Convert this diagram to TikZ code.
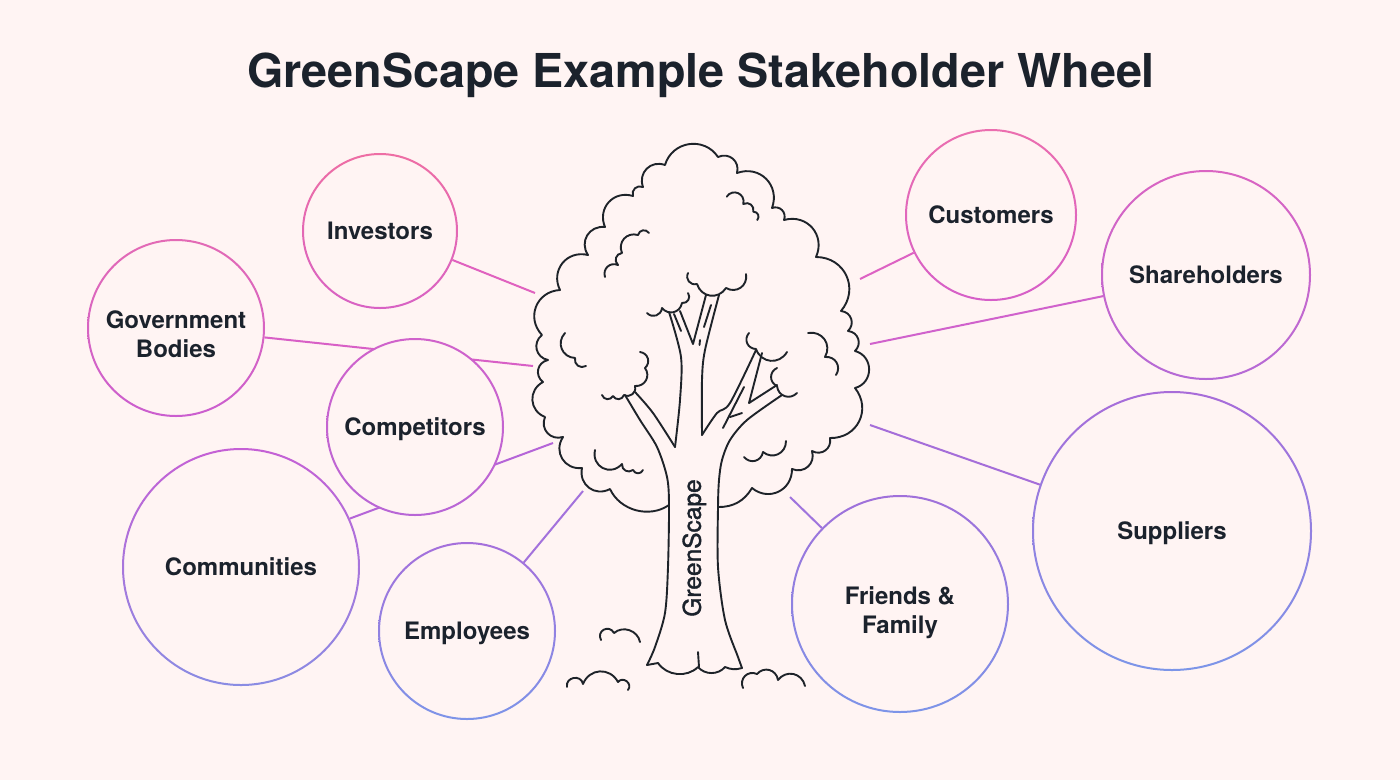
\documentclass[tikz,border=0pt]{standalone}
\usepackage{fontspec}
\setmainfont{TeX Gyre Heros}
\newfontfamily\trunkfont[FakeBold=1.5]{TeX Gyre Heros}
\pgfdeclarelayer{bgl}
\pgfdeclarelayer{lines}
\pgfsetlayers{bgl,lines,main}

\definecolor{bgc}{HTML}{FFF4F3}
\definecolor{txt}{HTML}{1B222C}
\definecolor{treec}{HTML}{1E2329}
% ring colours (top / bottom)
\definecolor{invT}{HTML}{EE6EA4}\definecolor{invB}{HTML}{D862C4}
\definecolor{govT}{HTML}{E36AB5}\definecolor{govB}{HTML}{CB5ECF}
\definecolor{comT}{HTML}{D062CB}\definecolor{comB}{HTML}{B866D6}
\definecolor{cmmT}{HTML}{C560D5}\definecolor{cmmB}{HTML}{8A8CE3}
\definecolor{empT}{HTML}{A56FDB}\definecolor{empB}{HTML}{7D94E8}
\definecolor{cusT}{HTML}{EB6EAF}\definecolor{cusB}{HTML}{D65FC8}
\definecolor{shaT}{HTML}{DA64C2}\definecolor{shaB}{HTML}{B56AD6}
\definecolor{supT}{HTML}{A86CD9}\definecolor{supB}{HTML}{7C95E8}
\definecolor{friT}{HTML}{A070DA}\definecolor{friB}{HTML}{7D94E8}
% connector colours
\definecolor{lInv}{HTML}{E062BF}
\definecolor{lGov}{HTML}{D85FC6}
\definecolor{lCmm}{HTML}{B565D8}
\definecolor{lEmp}{HTML}{A372DC}
\definecolor{lCus}{HTML}{DD62C3}
\definecolor{lSha}{HTML}{D062CC}
\definecolor{lSup}{HTML}{A56ED9}
\definecolor{lFri}{HTML}{9F74DD}

\newcommand\capone[1]{\raisebox{-8.6pt}[0pt][0pt]{#1}}
\newcommand\captwo[2]{\raisebox{-29.6pt}[0pt][0pt]{\begin{tabular}[b]{@{}c@{}}#1\\#2\end{tabular}}}
\newcommand\gring[4]{%
  \shade[top color=#3, bottom color=#4, even odd rule]
    (#1.center) circle[radius=#2+1] (#1.center) circle[radius=#2-1];}

\tikzset{
  stk/.style={circle, fill=bgc, draw=none, inner sep=0pt, outer sep=1pt,
    text=txt, font=\fontsize{24}{29}\selectfont\bfseries},
  conn/.style={line width=2pt},
  tree/.style={draw=treec, line width=1.9pt, line cap=round, line join=round},
  sc/.style={bend left=65, looseness=1.25},
  scr/.style={bend right=65, looseness=1.25}
}

\begin{document}
\begin{tikzpicture}[x=1pt, y=-1pt]
\useasboundingbox (0,0) rectangle (1400,780);
\begin{pgfonlayer}{bgl}
  \fill[bgc] (0,0) rectangle (1400,780);
\end{pgfonlayer}

% title
\node[anchor=base, text=txt, font=\fontsize{46.7}{56}\selectfont\bfseries]
  (title) at (701,87) {GreenScape Example Stakeholder Wheel};

% stakeholder circles
\node[stk, minimum size=154] (inv)   at (380,231)  {\capone{Investors}};
\node[stk, minimum size=176] (gov)   at (176,328)  {\captwo{Government}{Bodies}};
\node[stk, minimum size=176] (comp)  at (415,427)  {\capone{Competitors}};
\node[stk, minimum size=236] (comm)  at (241,567)  {\capone{Communities}};
\node[stk, minimum size=176] (emp)   at (467,631)  {\capone{Employees}};
\node[stk, minimum size=170] (cust)  at (991,215)  {\capone{Customers}};
\node[stk, minimum size=208] (share) at (1206,275) {\capone{Shareholders}};
\node[stk, minimum size=278] (supp)  at (1172,531) {\capone{Suppliers}};
\node[stk, minimum size=216] (fri)   at (900,604)  {\captwo{Friends \&}{Family}};

\gring{inv}{77}{invT}{invB}
\gring{gov}{88}{govT}{govB}
\gring{comp}{88}{comT}{comB}
\gring{comm}{118}{cmmT}{cmmB}
\gring{emp}{88}{empT}{empB}
\gring{cust}{85}{cusT}{cusB}
\gring{share}{104}{shaT}{shaB}
\gring{supp}{139}{supT}{supB}
\gring{fri}{108}{friT}{friB}

% connector ends at the tree
\coordinate (tinv)   at (535,293);
\coordinate (tgov)   at (533,366);
\coordinate (tcomm)  at (553,443);
\coordinate (temp)   at (583,491);
\coordinate (tcust)  at (860,279);
\coordinate (tshare) at (870,344);
\coordinate (tsupp)  at (870,425);
\coordinate (tfri)   at (790,497);

\begin{pgfonlayer}{lines}
  \draw[conn, draw=lInv] (inv) -- (tinv);
  \draw[conn, draw=lGov] (gov) -- (tgov);
  \draw[conn, draw=lCmm] (comm.24) -- (tcomm);
  \draw[conn, draw=lEmp] (emp) -- (temp);
  \draw[conn, draw=lCus] (cust) -- (tcust);
  \draw[conn, draw=lSha] (share) -- (tshare);
  \draw[conn, draw=lSup] (supp) -- (tsupp);
  \draw[conn, draw=lFri] (fri) -- (tfri);
\end{pgfonlayer}

% ---------- tree ----------
% canopy outline
\draw[tree] (669,505) to[bend left=50, looseness=1] (610,489) to[sc] (582,468) to[sc] (563,437)
  to[sc] (545,417) to[sc] (543,382) to[sc] (548,360) to[sc] (542,335) to[sc] (560,290)
  to[sc] (588,255) to[sc] (605,227) to[sc] (633,196) to[sc] (643,187) to[sc] (665,165)
  to[bend left=65, looseness=1.2] (718,157) to[sc] (737,173) to[sc] (772,208) to[sc] (784,220)
  to[sc] (816,257) to[sc] (841,311) to[sc] (848,331) to[sc] (855,351)
  to[bend left=75, looseness=1.35] (855,388) to[sc] (830,438) to[sc] (812,451)
  to[sc] (792,469) to[sc] (752,488) to[bend left=30] (718,507);

% inner leaf strokes
\draw[tree] (726.7,196.7) to[bend left=80, looseness=1.5] (743.3,204) to[sc] (753.3,211.7) to[sc] (757.3,220);
\draw[tree] (605,277) to[sc] (618,265) to[sc] (622,253) to[sc] (638,235) to[sc] (649,233);
\draw[tree] (688,273) to[scr] (697,284) to[scr] (726,288) to[scr] (746,274);
\draw[tree] (647,313) to[scr] (662,308) to[scr] (682,303) to[scr] (688,293);
\draw[tree] (749,333) to[scr] (756,349) to[scr] (787,352);
\draw[tree] (777,368) to[scr] (777,386) to[scr] (797,393);
\draw[tree] (808,333) to[sc] (825,357) to[sc] (836,375);
\draw[tree] (565,333) to[scr] (575,358) to[scr] (586,366);
\draw[tree] (640,352) to[sc] (645,368) to[sc] (635,386) to[sc] (624,395) to[sc] (613,396) to[sc] (602,395);
\draw[tree] (595,450) to[bend right=75, looseness=1.45] (622,464) to[scr] (633,470) to[scr] (643,470);
\draw[tree] (744,457) to[scr] (763,452) to[scr] (786,441);

% trunk and branches
\draw[tree] plot[smooth] coordinates {(625,395) (640,420) (657,447) (667,477) (669,505) (668,567) (665,613) (655,647) (647,665)};
\draw[tree] plot[smooth] coordinates {(635,392) (653,413) (675,447)};
\draw[tree] plot[smooth] coordinates {(669,312) (681,357) (680,400) (675,447)};
\draw[tree] (680,311) -- (693,344) -- (706,295);
\draw[tree] plot[smooth] coordinates {(719,295) (705,350) (702,380) (702,435)};
\draw[tree] (674,314) -- (681,331);
\draw[tree] (711,305) -- (704,327);
\draw[tree] (700,340) -- (699.5,345);
\draw[tree] plot[smooth] coordinates {(756,350) (730,403) (717,413) (702,435)};
\draw[tree] (762,353) -- (749,403) -- (777,385);
\draw[tree] plot[smooth] coordinates {(782,395) (747,420) (730,440) (722,460) (719,480) (718,507) (718,567) (725,620) (738,657) (742,668)};
\draw[tree] (744,387) -- (723,428);
\draw[tree] (730,417) -- (742,413);
% trunk base
\draw[tree] (647,665) -- (658,663) to[bend right=50, looseness=1] (698,667)
  to[bend right=50, looseness=1] (725,667) to[bend right=20] (742,668);
\draw[tree] (698,652) -- (699,667);

% grass tufts
\draw[tree] (601,640) to[bend left=90, looseness=1.8] (614,633) to[bend left=60, looseness=1.1] (640,642);
\draw[tree] (567,687) to[bend left=90, looseness=1.6] (583,684) to[sc] (618,682) to[bend left=90, looseness=1.6] (628,690);
\draw[tree] (743,688) to[bend left=70, looseness=1.3] (757,674) to[sc] (778,680) to[sc] (805,686);

% trunk text
\node[rotate=90, text=txt, font=\trunkfont\fontsize{24.5}{29}\selectfont]
  (gstext) at (692,548) {\raisebox{-8.8pt}[0pt][0pt]{GreenScape}};
\end{tikzpicture}
\end{document}
